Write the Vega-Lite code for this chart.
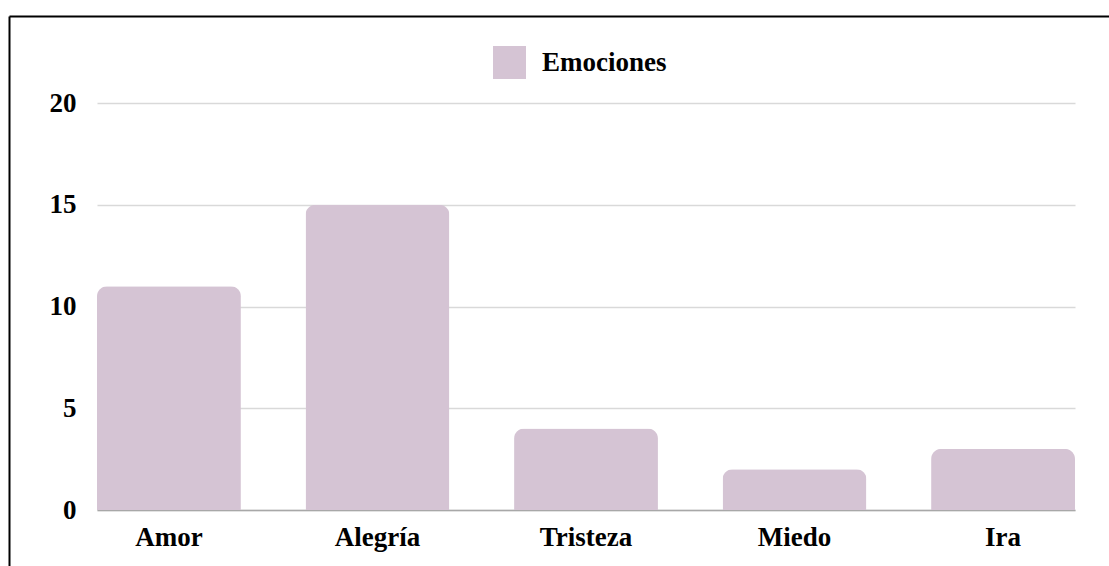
{
  "$schema": "https://vega.github.io/schema/vega-lite/v6.json",
  "autosize": {"type": "none"},
  "padding": {"left": 9, "top": 16, "right": 0, "bottom": 0},
  "width": 1100,
  "height": 550,
  "background": "white",
  "config": {
    "view": {"stroke": null},
    "font": "Liberation Serif"
  },
  "data": {
    "values": [
      {"emocion": "Amor", "cantidad": 11},
      {"emocion": "Alegría", "cantidad": 15},
      {"emocion": "Tristeza", "cantidad": 4},
      {"emocion": "Miedo", "cantidad": 2},
      {"emocion": "Ira", "cantidad": 3}
    ]
  },
  "layer": [
    {
      "mark": {"type": "bar", "cornerRadiusTopLeft": 10, "cornerRadiusTopRight": 10},
      "encoding": {
        "x": {
          "field": "emocion",
          "type": "nominal",
          "sort": null,
          "scale": {"range": [88, 1066], "paddingInner": 0.31, "paddingOuter": 0},
          "axis": {
            "orient": "bottom",
            "offset": -56,
            "title": null,
            "labelAngle": 0,
            "ticks": false,
            "domain": true,
            "domainColor": "#a8a8a8",
            "domainWidth": 1.5,
            "grid": false,
            "labelFont": "Liberation Serif",
            "labelFontSize": 27,
            "labelFontWeight": "bold",
            "labelColor": "#000000",
            "labelBaseline": "alphabetic",
            "labelPadding": 35
          }
        },
        "y": {
          "field": "cantidad",
          "type": "quantitative",
          "scale": {"domain": [0, 20], "range": [494, 87], "nice": false},
          "axis": {
            "orient": "left",
            "offset": -88,
            "title": null,
            "values": [0, 5, 10, 15, 20],
            "ticks": false,
            "domain": false,
            "grid": true,
            "gridColor": "#d9d9d9",
            "gridWidth": 1.5,
            "labelFont": "Liberation Serif",
            "labelFontSize": 27,
            "labelFontWeight": "bold",
            "labelColor": "#000000",
            "labelPadding": 21
          }
        },
        "color": {
          "datum": "Emociones",
          "type": "nominal",
          "scale": {"range": ["#d5c4d4"]},
          "legend": {
            "orient": "none",
            "legendX": 484,
            "legendY": 30,
            "title": null,
            "symbolType": "square",
            "symbolSize": 1089,
            "symbolStrokeWidth": 0,
            "symbolOpacity": 1,
            "labelFont": "Liberation Serif",
            "labelFontSize": 27,
            "labelFontWeight": "bold",
            "labelColor": "#000000",
            "labelOffset": 16,
            "padding": 0
          }
        }
      }
    },
    {
      "mark": {"type": "point", "opacity": 0},
      "encoding": {
        "x": {
          "field": "emocion",
          "type": "nominal",
          "sort": null,
          "axis": {
            "orient": "top",
            "title": null,
            "labels": false,
            "ticks": false,
            "grid": false,
            "domain": true,
            "domainColor": "#000000",
            "domainWidth": 2
          }
        },
        "y": {
          "field": "cantidad",
          "type": "quantitative",
          "axis": {
            "orient": "left",
            "offset": 0,
            "title": null,
            "labels": false,
            "ticks": false,
            "grid": false,
            "domain": true,
            "domainColor": "#000000",
            "domainWidth": 2
          }
        }
      }
    }
  ],
  "resolve": {
    "scale": {"x": "independent", "y": "independent"},
    "axis": {"x": "independent", "y": "independent"}
  }
}
